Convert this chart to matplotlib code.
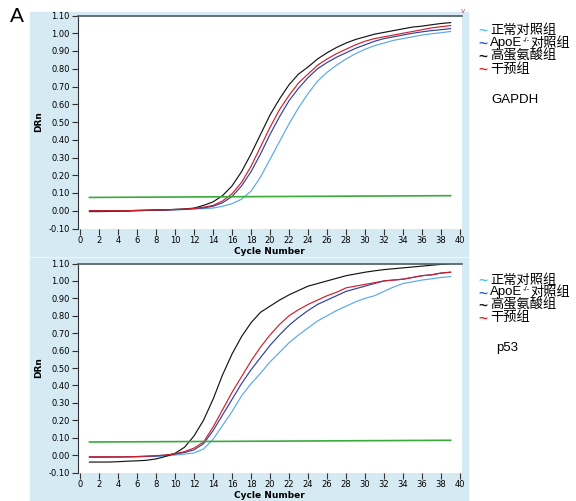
import matplotlib
matplotlib.use('Agg')
import matplotlib.pyplot as plt
from matplotlib.patches import Rectangle
from matplotlib.text import Annotation

plt.rcParams['font.family'] = ['DejaVu Sans', 'Noto Sans CJK SC']
plt.rcParams['axes.unicode_minus'] = False

# qPCR amplification data (cycles 1..39)
cycles = list(range(1, 40))

# GAPDH
gapdh_normal = [0.0, 0.0, 0.0, 0.0, 0.0, 0.0, 0.002, 0.003, 0.004, 0.005,
                0.007, 0.01, 0.012, 0.015, 0.025, 0.04, 0.065, 0.11, 0.19, 0.29,
                0.39, 0.49, 0.58, 0.66, 0.73, 0.78, 0.82, 0.855, 0.885, 0.91,
                0.93, 0.945, 0.96, 0.97, 0.98, 0.99, 0.997, 1.003, 1.01]
gapdh_apoe = [-0.005, -0.005, -0.004, -0.003, -0.002, 0.0, 0.002, 0.003, 0.005, 0.006,
              0.008, 0.012, 0.016, 0.025, 0.045, 0.08, 0.14, 0.22, 0.32, 0.43,
              0.53, 0.62, 0.69, 0.75, 0.80, 0.835, 0.865, 0.89, 0.915, 0.935,
              0.955, 0.97, 0.98, 0.99, 1.0, 1.008, 1.015, 1.02, 1.026]
gapdh_hmet = [0.0, 0.0, 0.0, 0.0, 0.0, 0.002, 0.003, 0.004, 0.005, 0.008,
              0.01, 0.015, 0.03, 0.05, 0.085, 0.14, 0.22, 0.32, 0.43, 0.54,
              0.63, 0.71, 0.77, 0.81, 0.855, 0.89, 0.92, 0.945, 0.965, 0.98,
              0.995, 1.005, 1.015, 1.025, 1.035, 1.04, 1.048, 1.055, 1.06]
gapdh_treat = [0.0, 0.0, 0.0, 0.0, 0.0, 0.002, 0.003, 0.004, 0.005, 0.007,
               0.009, 0.013, 0.02, 0.03, 0.055, 0.095, 0.16, 0.25, 0.36, 0.47,
               0.57, 0.65, 0.72, 0.77, 0.82, 0.855, 0.885, 0.91, 0.935, 0.955,
               0.97, 0.98, 0.99, 1.0, 1.01, 1.02, 1.03, 1.037, 1.043]

# p53
p53_normal = [-0.01, -0.01, -0.01, -0.01, -0.01, -0.01, -0.009, -0.008, -0.005, 0.0,
              0.006, 0.012, 0.035, 0.09, 0.17, 0.25, 0.34, 0.41, 0.47, 0.535,
              0.59, 0.645, 0.69, 0.73, 0.77, 0.80, 0.83, 0.855, 0.88, 0.90,
              0.915, 0.94, 0.965, 0.985, 0.995, 1.005, 1.012, 1.02, 1.025]
p53_apoe = [-0.012, -0.012, -0.012, -0.011, -0.01, -0.009, -0.007, -0.005, 0.0, 0.006,
            0.015, 0.03, 0.065, 0.14, 0.23, 0.32, 0.41, 0.49, 0.56, 0.63,
            0.69, 0.745, 0.79, 0.83, 0.865, 0.89, 0.915, 0.94, 0.955, 0.97,
            0.985, 1.0, 1.005, 1.01, 1.02, 1.03, 1.035, 1.045, 1.05]
p53_hmet = [-0.04, -0.04, -0.04, -0.038, -0.035, -0.033, -0.03, -0.022, -0.008, 0.01,
            0.045, 0.11, 0.2, 0.32, 0.46, 0.58, 0.68, 0.76, 0.82, 0.855,
            0.89, 0.92, 0.945, 0.97, 0.985, 1.0, 1.015, 1.03, 1.04, 1.05,
            1.058, 1.065, 1.07, 1.075, 1.08, 1.085, 1.09, 1.095, 1.10]
p53_treat = [-0.01, -0.01, -0.01, -0.01, -0.01, -0.008, -0.006, -0.003, 0.0, 0.008,
             0.02, 0.04, 0.075, 0.16, 0.26, 0.36, 0.45, 0.54, 0.62, 0.69,
             0.75, 0.80, 0.835, 0.865, 0.89, 0.915, 0.935, 0.96, 0.97, 0.98,
             0.99, 1.0, 1.005, 1.01, 1.02, 1.03, 1.035, 1.045, 1.05]

threshold_x = [1, 39]
threshold_y = [0.075, 0.085]

group_names = ['正常对照组', 'ApoE', '高蛋氨酸组', '干预组']
group_colors = ['#5aa9e6', '#3040a0', '#151515', '#d0202a']
legend_tilde_colors = ['#4cc4f0', '#3060c8', '#151515', '#e02828']
genes = ['GAPDH', 'p53']
ytick_vals = [-0.10, 0.00, 0.10, 0.20, 0.30, 0.40, 0.50, 0.60, 0.70, 0.80, 0.90, 1.00, 1.10]

W, H = 576, 501
fig = plt.figure(figsize=(W / 100, H / 100), dpi=100)


def fx(px):
    return px / W


def fy(py):
    return 1 - py / H


bg = '#d5eaf3'
fig.patches.append(Rectangle((fx(30), fy(256)), fx(468) - fx(30), fy(12) - fy(256),
                             transform=fig.transFigure, color=bg, zorder=-10))
fig.patches.append(Rectangle((fx(30), fy(501)), fx(468) - fx(30), fy(258) - fy(501),
                             transform=fig.transFigure, color=bg, zorder=-10))

panels = [
    dict(top=15.5, bottom=228.5, data=[gapdh_normal, gapdh_apoe, gapdh_hmet, gapdh_treat],
         legend_y=[30, 43, 56, 69], gene_xy=(491, 100)),
    dict(top=263.5, bottom=472.5, data=[p53_normal, p53_apoe, p53_hmet, p53_treat],
         legend_y=[280, 292.5, 305, 317.5], gene_xy=(496, 348)),
]

latin = ['Liberation Sans', 'Noto Sans CJK SC']
cjk = ['Noto Sans CJK SC', 'Liberation Sans']

for i, p in enumerate(panels):
    ax = fig.add_axes([fx(77.5), fy(p['bottom']), fx(462) - fx(77.5), fy(p['top']) - fy(p['bottom'])])
    ax.set_facecolor('white')
    for series, col in zip(p['data'], group_colors):
        ax.plot(cycles, series, color=col, lw=0.85)
    ax.plot(threshold_x, threshold_y, color='#3aaa3a', lw=1.2)
    ax.set_xlim(-0.26, 40.2)
    ax.set_ylim(-0.10, 1.10)
    ax.set_xticks(range(0, 41, 2))
    ax.set_yticks(ytick_vals)
    ax.set_yticklabels(['%.2f' % v for v in ytick_vals])
    ax.tick_params(axis='both', labelsize=6, length=4, width=0.8, pad=1.5, color='#333333')
    ax.spines['bottom'].set_visible(False)
    ax.spines['right'].set_visible(False)
    ax.spines['top'].set_color('#4a5c5c')
    ax.spines['top'].set_linewidth(1.2)
    ax.spines['left'].set_color('#333333')
    ax.set_xlabel('Cycle Number', fontsize=6.5, fontweight='bold', labelpad=1)
    ax.set_ylabel('DRn', fontsize=6.5, fontweight='bold', labelpad=4)

    # legend drawn as text to the right of the panel
    for k, (ly, tc) in enumerate(zip(p['legend_y'], legend_tilde_colors)):
        fig.text(fx(483), fy(ly + 1), '~', color=tc, fontsize=11, fontweight='bold',
                 ha='center', va='center', family=latin)
        if group_names[k] == 'ApoE':
            t1 = fig.text(fx(490), fy(ly), 'ApoE', fontsize=9.5, ha='left', va='center', family=latin)
            a2 = fig.add_artist(Annotation('-/-', xy=(1.02, 0.45), xycoords=t1, fontsize=5.5,
                                           ha='left', va='bottom', family=latin))
            fig.add_artist(Annotation('对照组', xy=(1.05, 0.5), xycoords=(a2, t1), fontsize=9.5,
                                      ha='left', va='center', family=cjk))
        else:
            fig.text(fx(490), fy(ly), group_names[k], fontsize=9.5, ha='left', va='center', family=cjk)
    fig.text(fx(p['gene_xy'][0]), fy(p['gene_xy'][1]), genes[i], fontsize=9.5, ha='left',
             va='center', family=latin)

fig.text(fx(463), fy(11), 'v', color='#c04080', fontsize=5, ha='center', va='center')
fig.text(fx(17), fy(17), 'A', fontsize=15, ha='center', va='center', family=latin)

fig.savefig('out.png', dpi=100)
